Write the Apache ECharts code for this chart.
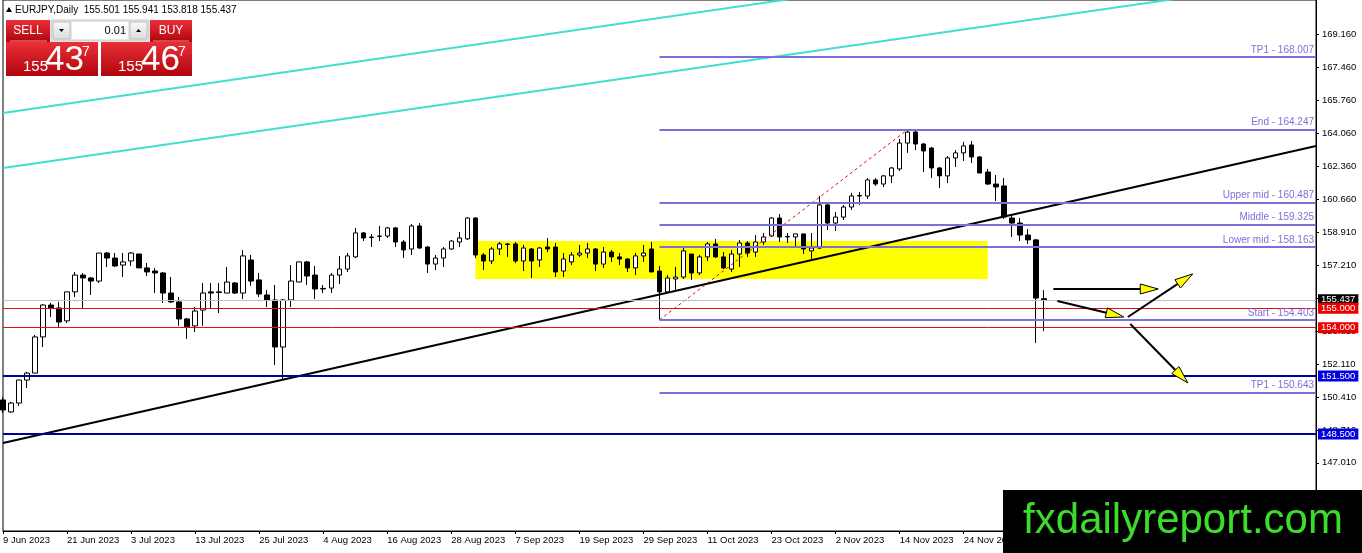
<!DOCTYPE html>
<html>
<head>
<meta charset="utf-8">
<script src="https://cdn.jsdelivr.net/npm/echarts@6/dist/echarts.min.js"></script>
<style>
  html, body { margin: 0; padding: 0; background: #fff; }
  #chart { width: 1362px; height: 553px; }
</style>
</head>
<body>
<div id="chart"></div>
<script>
// date labels shown every 8 bars on the time axis
var dateLabels = ['9 Jun 2023', '21 Jun 2023', '3 Jul 2023', '13 Jul 2023', '25 Jul 2023', '4 Aug 2023',
    '16 Aug 2023', '28 Aug 2023', '7 Sep 2023', '19 Sep 2023', '29 Sep 2023', '11 Oct 2023', '23 Oct 2023',
    '2 Nov 2023', '14 Nov 2023', '24 Nov 2023', '6 Dec 2023', '18 Dec 2023', '28 Dec 2023', '9 Jan 2024', '19 Jan 2024'];

// daily bars, [open, high, low, close]
var candles = [
    [150.26, 150.41, 149.59, 149.74], [149.64, 150.16, 149.59, 150.10], [150.10, 151.29, 149.95, 151.29],
    [151.29, 151.71, 150.88, 151.65], [151.65, 153.62, 151.65, 153.52], [153.52, 155.22, 153.00, 155.17],
    [155.17, 155.28, 154.55, 155.02], [155.02, 155.33, 154.04, 154.29], [154.35, 155.85, 154.24, 155.85],
    [155.85, 156.88, 155.59, 156.72], [156.72, 156.83, 155.02, 156.57], [156.57, 156.62, 155.69, 156.41],
    [156.41, 157.86, 156.31, 157.86], [157.86, 157.91, 157.14, 157.60], [157.60, 157.86, 157.14, 157.19],
    [157.24, 157.86, 156.62, 157.40], [157.45, 157.91, 157.19, 157.86], [157.81, 157.81, 157.09, 157.09],
    [157.09, 157.34, 156.67, 156.88], [156.93, 157.09, 155.79, 156.83], [156.83, 156.88, 155.28, 155.79],
    [155.79, 156.62, 155.28, 155.33], [155.33, 155.59, 154.09, 154.45], [154.45, 154.50, 153.42, 154.04],
    [154.09, 155.07, 153.77, 154.86], [154.91, 156.31, 154.09, 155.79], [155.85, 156.31, 155.02, 155.79],
    [155.85, 156.31, 154.76, 155.82], [155.79, 157.14, 155.79, 156.36], [156.31, 156.36, 155.74, 155.79],
    [155.79, 158.02, 155.48, 157.71], [157.50, 157.76, 156.16, 156.41], [156.47, 156.83, 155.59, 155.74],
    [155.69, 155.95, 155.07, 155.43], [155.43, 156.21, 152.07, 153.00], [153.00, 155.48, 151.29, 155.43],
    [155.43, 157.24, 155.07, 156.41], [156.36, 157.40, 156.36, 157.40], [157.40, 157.45, 156.21, 156.67],
    [156.72, 157.19, 155.48, 156.00], [156.00, 156.21, 155.79, 156.03], [156.05, 156.83, 155.79, 156.72],
    [156.72, 157.71, 156.26, 157.03], [157.03, 157.86, 156.88, 157.71], [157.66, 159.16, 157.60, 158.90],
    [158.90, 158.95, 158.48, 158.64], [158.69, 158.85, 158.17, 158.66], [158.72, 159.26, 158.48, 158.74],
    [158.74, 159.21, 158.64, 159.16], [159.16, 159.21, 158.17, 158.43], [158.43, 158.54, 157.60, 158.02],
    [158.07, 159.36, 157.76, 159.26], [159.26, 159.41, 158.07, 158.12], [158.17, 158.22, 156.83, 157.29],
    [157.29, 157.76, 156.98, 157.60], [157.60, 158.17, 157.14, 158.07], [158.07, 158.54, 158.02, 158.48],
    [158.43, 158.95, 158.17, 158.64], [158.59, 159.72, 158.54, 159.67], [159.67, 159.72, 157.60, 157.76],
    [157.76, 157.86, 156.98, 157.45], [157.45, 158.17, 157.29, 158.07], [158.07, 158.43, 157.76, 158.33],
    [158.33, 158.38, 157.66, 158.30], [158.33, 158.43, 157.34, 157.45], [157.45, 158.28, 156.93, 158.12],
    [158.07, 158.12, 156.57, 157.45], [157.50, 158.17, 157.14, 158.12], [158.17, 158.64, 157.91, 158.07],
    [158.17, 158.38, 156.62, 156.88], [156.93, 157.86, 156.62, 157.55], [157.40, 157.91, 157.24, 157.76],
    [157.76, 158.28, 157.66, 157.86], [157.86, 158.38, 157.60, 158.07], [158.07, 158.12, 156.93, 157.29],
    [157.29, 158.17, 157.09, 157.91], [157.91, 158.02, 157.40, 157.66], [157.66, 157.86, 157.24, 157.55],
    [157.55, 157.60, 156.88, 157.09], [157.09, 157.86, 156.72, 157.71], [157.71, 158.28, 157.40, 157.86],
    [158.07, 158.43, 156.88, 156.88], [156.93, 157.19, 154.403, 155.85], [155.85, 156.72, 155.85, 156.57],
    [156.52, 157.14, 155.95, 156.62], [156.62, 158.12, 156.52, 157.97], [157.81, 157.81, 156.47, 156.83],
    [156.83, 157.76, 156.72, 157.66], [157.66, 158.43, 157.45, 158.33], [158.33, 158.59, 157.60, 157.66],
    [157.66, 157.91, 157.03, 157.09], [157.03, 158.02, 156.88, 157.81], [157.81, 158.54, 157.14, 158.38],
    [158.38, 158.48, 157.66, 157.86], [157.91, 158.79, 157.66, 158.43], [158.43, 158.90, 158.28, 158.69],
    [158.74, 159.72, 158.69, 159.67], [159.67, 159.88, 158.43, 158.69], [158.69, 158.90, 158.38, 158.72],
    [158.69, 158.85, 158.22, 158.85], [158.85, 158.85, 157.81, 158.07], [157.97, 158.90, 157.55, 158.12],
    [158.12, 160.81, 158.07, 160.35], [160.35, 160.40, 159.05, 159.41], [159.41, 159.98, 159.00, 159.72],
    [159.72, 160.35, 159.57, 160.24], [160.24, 160.97, 160.09, 160.81], [160.81, 161.02, 160.35, 160.84],
    [160.81, 161.74, 160.66, 161.64], [161.64, 161.74, 161.33, 161.43], [161.43, 161.90, 161.28, 161.85],
    [161.85, 162.31, 161.48, 162.26], [162.21, 163.76, 162.10, 163.55], [163.55, 164.247, 163.04, 164.12],
    [164.12, 164.20, 163.19, 163.50], [163.50, 163.55, 162.05, 163.14], [163.29, 163.35, 161.74, 162.26],
    [162.26, 162.31, 161.22, 161.85], [161.85, 162.88, 161.48, 162.78], [162.78, 163.19, 162.31, 163.04],
    [163.04, 163.61, 162.62, 163.40], [163.45, 163.66, 162.52, 162.83], [162.83, 162.88, 162.00, 162.00],
    [162.05, 162.21, 161.38, 161.43], [161.43, 161.90, 160.55, 161.28], [161.33, 161.74, 159.62, 159.72],
    [159.67, 159.83, 158.69, 159.41], [159.41, 159.67, 158.48, 158.79], [158.79, 159.10, 158.33, 158.54],
    [158.54, 158.59, 153.21, 155.53], [155.501, 155.941, 153.818, 155.437]
];

var yTicks = [169.16, 167.46, 165.76, 164.06, 162.36, 160.66, 158.91, 157.21, 155.51, 153.81, 152.11, 150.41, 148.71, 147.01];

var fiboNames = ['TP1', 'End', 'Upper mid', 'Middle', 'Lower mid', 'Start', 'TP1'];
var fiboLevels = [168.007, 164.247, 160.487, 159.325, 158.163, 154.403, 150.643];
var redLevels = [155.000, 154.000];
var blueLevels = [151.500, 148.500];
var lastPrice = 155.437;

// drawn objects in [bar index, price]
var channelUpper = [[0, 165.10], [100, 171.10]];
var channelLower = [[0, 162.26], [148, 171.10]];
var trendLine = [[0, 148.03], [164, 163.40]];
var fiboTrend = [[82, 154.403], [113, 164.247]];
var zoneBox = [[59, 158.48], [123, 156.52]];
var arrows = [
    [131.2, 156.00, 144.3, 156.00],
    [131.7, 155.38, 140.0, 154.55],
    [140.5, 154.55, 148.6, 156.78],
    [140.8, 154.19, 148.0, 151.14]
];

var nBars = 165;
var categories = [];
for (var i = 0; i < nBars; i++) categories.push(i);

var FONT = '"Liberation Sans", Arial, sans-serif';
var NARROW = '"Liberation Sans Narrow", "Liberation Sans", Arial, sans-serif';
var fiboColor = '#7b70d8';

function hLine(value, color, width, tagBg) {
    return {
        yAxis: value,
        lineStyle: { color: color, width: width, type: 'solid' },
        label: {
            show: true, position: 'end', distance: 2,
            formatter: value.toFixed(3),
            color: '#fff', backgroundColor: tagBg,
            padding: [1, 3, 0, 3], fontSize: 9.5, fontFamily: FONT
        }
    };
}

var levelLines = [hLine(lastPrice, '#c0c0c0', 1, '#000')];
redLevels.forEach(function (v) { levelLines.push(hLine(v, '#e01010', 1, '#ee0000')); });
blueLevels.forEach(function (v) { levelLines.push(hLine(v, '#00009c', 2, '#0000dd')); });

var fiboLines = fiboLevels.map(function (v, k) {
    return [
        { coord: [82, v], name: fiboNames[k] + ' - ' + v.toFixed(3) },
        { coord: [164, v] }
    ];
});

function segment(points, color, width, type, z) {
    return {
        type: 'line', xAxisIndex: 1, data: points, showSymbol: false, symbol: 'none',
        lineStyle: { color: color, width: width, type: type }, z: z, silent: true
    };
}

var redGrad = {
    type: 'linear', x: 0, y: 0, x2: 0, y2: 1,
    colorStops: [{ offset: 0, color: '#ea3038' }, { offset: 1, color: '#b0040c' }]
};
var btnGrad = {
    type: 'linear', x: 0, y: 0, x2: 0, y2: 1,
    colorStops: [{ offset: 0, color: '#fafafa' }, { offset: 1, color: '#dcdcdc' }]
};

var option = {
    animation: false,
    backgroundColor: '#fff',
    grid: {
        left: 3, right: 46, top: 0, bottom: 22,
        show: true, borderColor: '#000', borderWidth: 1, backgroundColor: '#fff'
    },
    xAxis: [{
        type: 'category',
        data: categories,
        boundaryGap: false,
        axisLine: { show: true, onZero: false, lineStyle: { color: '#000' } },
        axisTick: { show: true, interval: 7, length: 3, lineStyle: { color: '#000' } },
        axisLabel: {
            interval: 7, align: 'left', margin: 4, color: '#000', fontSize: 9.5, fontFamily: FONT,
            formatter: function (v, idx) { return dateLabels[idx / 8] || ''; }
        },
        splitLine: { show: false }
    }, {
        type: 'value', min: 0, max: nBars - 1, show: false,
        axisLine: { onZero: false }
    }],
    yAxis: {
        type: 'value',
        position: 'right',
        min: 143.48,
        max: 170.95,
        axisLine: { show: true, onZero: false, lineStyle: { color: '#000' } },
        axisTick: { show: true, customValues: yTicks, length: 3, lineStyle: { color: '#000' } },
        axisLabel: {
            customValues: yTicks, margin: 6, color: '#000', fontSize: 9.5, fontFamily: FONT,
            formatter: function (v) { return v.toFixed(3); }
        },
        splitLine: { show: false }
    },
    series: [
        {
            type: 'line', xAxisIndex: 1, data: [], z: 1, silent: true,
            markArea: {
                silent: true,
                itemStyle: { color: '#ffff00' },
                data: [[{ coord: zoneBox[0] }, { coord: zoneBox[1] }]]
            }
        },
        {
            type: 'candlestick',
            data: candles.map(function (c) { return [c[0], c[3], c[2], c[1]]; }),
            barWidth: 5,
            z: 3,
            silent: true,
            itemStyle: { color: '#fff', color0: '#000', borderColor: '#000', borderColor0: '#000', borderWidth: 1 }
        },
        segment(channelUpper, '#40e0d0', 2, 'solid', 4),
        segment(channelLower, '#40e0d0', 2, 'solid', 4),
        segment(trendLine, '#000', 2, 'solid', 4),
        segment(fiboTrend, '#e01010', 1, [3, 3], 4),
        {
            type: 'line', xAxisIndex: 1, data: [], z: 4, silent: true,
            markLine: {
                silent: true, symbol: 'none', animation: false,
                lineStyle: { color: fiboColor, width: 2, type: 'solid' },
                label: {
                    show: true, position: 'insideEndTop', distance: 2,
                    formatter: '{b}', color: fiboColor, fontSize: 10, fontFamily: FONT
                },
                data: fiboLines
            }
        },
        {
            type: 'line', xAxisIndex: 1, data: [], z: 5, silent: true,
            markLine: { silent: true, symbol: 'none', animation: false, data: levelLines }
        },
        {
            type: 'custom', xAxisIndex: 1, z: 6, silent: true,
            data: arrows,
            encode: { x: [0, 2], y: [1, 3] },
            renderItem: function (params, api) {
                var a = api.coord([api.value(0), api.value(1)]);
                var b = api.coord([api.value(2), api.value(3)]);
                var dx = b[0] - a[0], dy = b[1] - a[1];
                var len = Math.sqrt(dx * dx + dy * dy);
                var ux = dx / len, uy = dy / len;
                var L = 18, W = 5;
                var bx = b[0] - ux * L, by = b[1] - uy * L;
                return {
                    type: 'group',
                    children: [
                        { type: 'line', shape: { x1: a[0], y1: a[1], x2: bx, y2: by }, style: { stroke: '#000', lineWidth: 2 } },
                        {
                            type: 'polygon',
                            shape: { points: [[b[0], b[1]], [bx - uy * W, by + ux * W], [bx + uy * W, by - ux * W]] },
                            style: { fill: '#ffff00', stroke: '#000', lineWidth: 1 }
                        }
                    ]
                };
            }
        }
    ],
    graphic: [
        // symbol line
        { type: 'polygon', z: 100, shape: { points: [[6, 12], [9, 7], [12, 12]] }, style: { fill: '#000' } },
        {
            type: 'text', z: 100, x: 15, y: 10,
            style: { text: 'EURJPY,Daily  155.501 155.941 153.818 155.437', font: '10px ' + FONT, fill: '#000', verticalAlign: 'middle' }
        },
        // one click trading panel
        { type: 'rect', z: 100, shape: { x: 6, y: 20, width: 44, height: 22 }, style: { fill: redGrad } },
        { type: 'rect', z: 100, shape: { x: 150, y: 20, width: 42, height: 22 }, style: { fill: redGrad } },
        { type: 'line', z: 101, shape: { x1: 10, y1: 41, x2: 47, y2: 41 }, style: { stroke: '#f28a8a', lineWidth: 1 } },
        { type: 'line', z: 101, shape: { x1: 153, y1: 41, x2: 189, y2: 41 }, style: { stroke: '#f28a8a', lineWidth: 1 } },
        { type: 'text', z: 101, x: 28, y: 31, style: { text: 'SELL', font: '12px ' + FONT, fill: '#fff', align: 'center', verticalAlign: 'middle' } },
        { type: 'text', z: 101, x: 171, y: 31, style: { text: 'BUY', font: '12px ' + FONT, fill: '#fff', align: 'center', verticalAlign: 'middle' } },
        { type: 'rect', z: 100, shape: { x: 51, y: 20, width: 98, height: 21 }, style: { fill: '#e6e6e6', stroke: '#c8c8c8', lineWidth: 1 } },
        { type: 'rect', z: 101, shape: { x: 53, y: 22, width: 17, height: 17 }, style: { fill: btnGrad, stroke: '#bdbdbd', lineWidth: 1 } },
        { type: 'rect', z: 101, shape: { x: 130, y: 22, width: 17, height: 17 }, style: { fill: btnGrad, stroke: '#bdbdbd', lineWidth: 1 } },
        { type: 'polygon', z: 102, shape: { points: [[59, 29], [64, 29], [61.5, 32]] }, style: { fill: '#000' } },
        { type: 'polygon', z: 102, shape: { points: [[136, 32], [141, 32], [138.5, 29]] }, style: { fill: '#000' } },
        { type: 'rect', z: 101, shape: { x: 72, y: 22, width: 56, height: 17 }, style: { fill: '#fff' } },
        { type: 'text', z: 102, x: 126, y: 31, style: { text: '0.01', font: '11px ' + FONT, fill: '#000', align: 'right', verticalAlign: 'middle' } },
        { type: 'rect', z: 100, shape: { x: 6, y: 42, width: 92, height: 34 }, style: { fill: redGrad } },
        { type: 'rect', z: 100, shape: { x: 101, y: 42, width: 91, height: 34 }, style: { fill: redGrad } },
        { type: 'text', z: 101, x: 23, y: 67, style: { text: '155', font: '15px ' + NARROW, fill: '#fff', verticalAlign: 'middle' } },
        { type: 'text', z: 101, x: 45, y: 60, style: { text: '43', font: '35px ' + NARROW, fill: '#fff', verticalAlign: 'middle' } },
        { type: 'text', z: 101, x: 82, y: 52, style: { text: '7', font: '14px ' + NARROW, fill: '#fff', verticalAlign: 'middle' } },
        { type: 'text', z: 101, x: 118, y: 67, style: { text: '155', font: '15px ' + NARROW, fill: '#fff', verticalAlign: 'middle' } },
        { type: 'text', z: 101, x: 141, y: 60, style: { text: '46', font: '35px ' + NARROW, fill: '#fff', verticalAlign: 'middle' } },
        { type: 'text', z: 101, x: 178, y: 52, style: { text: '7', font: '14px ' + NARROW, fill: '#fff', verticalAlign: 'middle' } },
        // watermark
        { type: 'rect', z: 110, shape: { x: 1003, y: 490, width: 359, height: 63 }, style: { fill: '#000' } },
        {
            type: 'text', z: 111, x: 1183, y: 521,
            style: { text: 'fxdailyreport.com', font: '42px ' + FONT, fill: '#3ddc2c', align: 'center', verticalAlign: 'middle' }
        }
    ]
};

var myChart = echarts.init(document.getElementById('chart'));
myChart.setOption(option);
</script>
</body>
</html>
